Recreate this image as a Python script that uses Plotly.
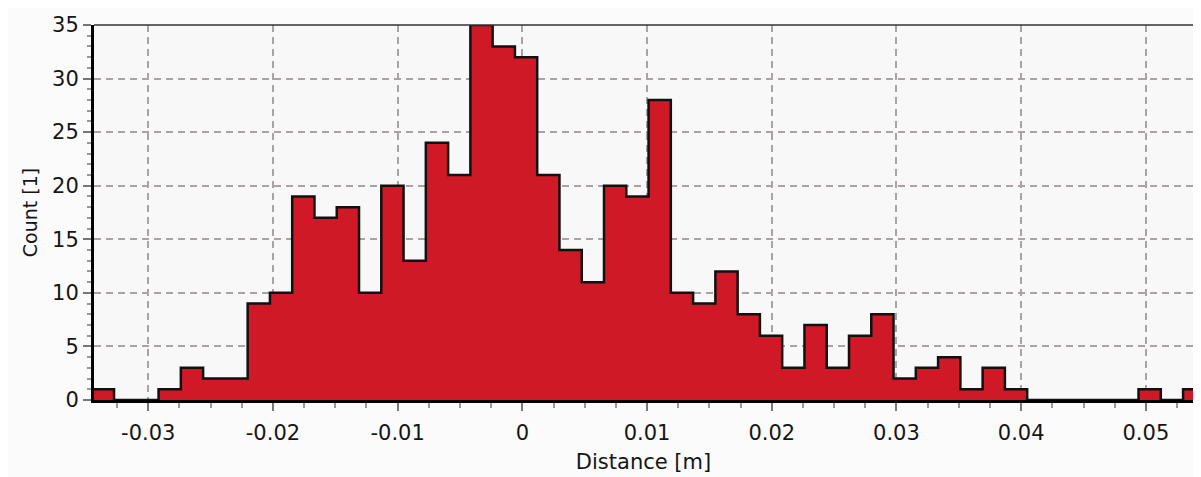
import plotly.graph_objects as go

# Histogram definition
bin_start = -0.03453      # left edge of first bin [m]
bin_width = 0.001786      # bin width [m]
counts = [1, 0, 0, 1, 3, 2, 2, 9, 10, 19,
          17, 18, 10, 20, 13, 24, 21, 35, 33, 32,
          21, 14, 11, 20, 19, 28, 10, 9, 12, 8,
          6, 3, 7, 3, 6, 8, 2, 3, 4, 1,
          3, 1, 0, 0, 0, 0, 0, 1, 0, 1]

x_tickvals = [-0.03, -0.02, -0.01, 0, 0.01, 0.02, 0.03, 0.04, 0.05]
x_ticktext = ["-0.03", "-0.02", "-0.01", "0", "0.01", "0.02", "0.03", "0.04", "0.05"]
y_tickvals = [0, 5, 10, 15, 20, 25, 30, 35]

edges = [bin_start + k * bin_width for k in range(len(counts) + 1)]
ys = counts + [counts[-1]]

FONT = "DejaVu Sans, Liberation Sans, Arial, sans-serif"
RED = "#D01926"
GRID = "#A9A3A1"

fig = go.Figure()
fig.add_trace(go.Scatter(
    x=edges, y=ys, mode="lines", line_shape="hv",
    line=dict(color="#111111", width=2.5),
    fill="tozeroy", fillcolor=RED, hoverinfo="skip", showlegend=False,
))

fig.update_layout(
    width=1185, height=469,
    margin=dict(l=86, r=0, t=17, b=77),
    paper_bgcolor="#FBFBFB", plot_bgcolor="#F8F8F8",
    font=dict(family=FONT, size=21, color="#151515"),
    showlegend=False,
)
fig.update_xaxes(
    range=[-0.03435, 0.05378],
    tickvals=x_tickvals, ticktext=x_ticktext,
    ticks="outside", ticklen=8, tickwidth=1.5, tickcolor="#777777",
    minor=dict(dtick=0.0025, tick0=0, ticks="outside", ticklen=5,
               tickcolor="#999999", showgrid=False),
    showgrid=True, gridcolor=GRID, gridwidth=2, griddash="7px,5px",
    showline=True, linecolor="#000000", linewidth=3,
    zeroline=False, automargin=False,
    ticklabelstandoff=4,
    title=dict(text="Distance [m]", standoff=11, font=dict(size=21)),
    tickfont=dict(size=21),
)
fig.update_yaxes(
    range=[0, 35],
    tickvals=y_tickvals,
    ticks="outside", ticklen=8, tickwidth=1.5, tickcolor="#777777",
    minor=dict(dtick=1, tick0=0, ticks="outside", ticklen=4,
               tickcolor="#999999", showgrid=False),
    showgrid=True, gridcolor=GRID, gridwidth=2, griddash="7px,5px",
    showline=True, linecolor="#000000", linewidth=3,
    zeroline=False, automargin=False,
    title=dict(text="Count [1]", standoff=10, font=dict(size=19)),
    tickfont=dict(size=21),
)
# top frame line
fig.add_shape(type="line", xref="paper", yref="paper", x0=0, x1=1, y0=1, y1=1,
              line=dict(color="#333333", width=1.5))

fig.write_html("out.html")
